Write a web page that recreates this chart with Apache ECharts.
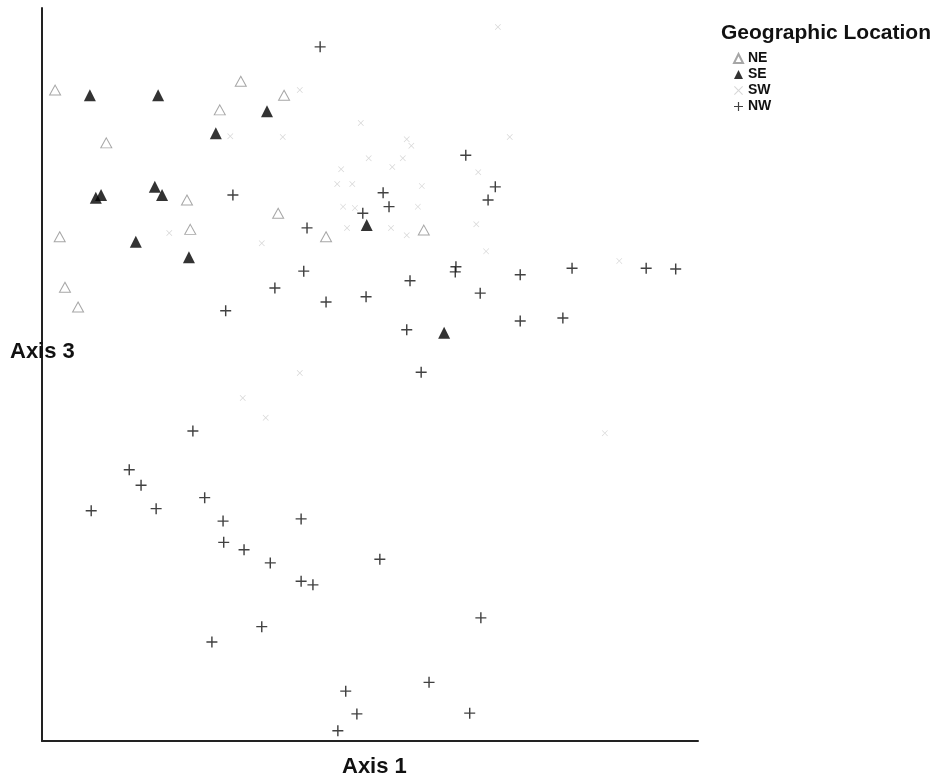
<!DOCTYPE html>
<html>
<head>
<meta charset="utf-8">
<title>Axis 1 vs Axis 3 by Geographic Location</title>
<script src="https://cdn.jsdelivr.net/npm/echarts@6/dist/echarts.min.js"></script>
<style>
  html, body { margin: 0; padding: 0; background: #fff; }
  #chart { width: 944px; height: 779px; }
</style>
</head>
<body>
<div id="chart"></div>
<script>
// Ordination scores [Axis 1, Axis 3] for each sample, grouped by region
const locations = ['NE', 'SE', 'SW', 'NW'];

const neScores = [
  [0.20, 8.88], [3.03, 9.00], [2.71, 8.61], [0.98, 8.16], [2.21, 7.38],
  [2.26, 6.98], [0.27, 6.88], [0.35, 6.19], [0.55, 5.92], [3.60, 7.20],
  [4.33, 6.88], [5.82, 6.97], [3.69, 8.81]
];

const seScores = [
  [0.73, 8.81], [1.77, 8.81], [3.43, 8.59], [2.65, 8.29], [0.82, 7.41],
  [0.90, 7.45], [1.72, 7.56], [1.83, 7.45], [1.43, 6.81], [2.24, 6.60],
  [4.95, 7.04], [6.13, 5.57]
];

const swScores = [
  [6.95, 9.74], [7.13, 8.24], [3.93, 8.88], [2.87, 8.25], [3.67, 8.24],
  [4.86, 8.43], [5.56, 8.21], [5.63, 8.12], [4.98, 7.95], [4.56, 7.80],
  [5.34, 7.83], [5.50, 7.95], [4.50, 7.60], [4.73, 7.60], [5.79, 7.57],
  [4.59, 7.29], [4.77, 7.27], [5.73, 7.29], [4.65, 7.00], [5.32, 7.00],
  [5.56, 6.90], [6.62, 7.05], [6.65, 7.76], [6.77, 6.68], [3.35, 6.79],
  [1.94, 6.93], [8.80, 6.55], [3.06, 4.68], [3.93, 5.02], [3.41, 4.41],
  [8.58, 4.20]
];

const nwScores = [
  [4.24, 9.47], [6.46, 7.99], [5.20, 7.48], [5.29, 7.29], [6.91, 7.56],
  [6.80, 7.38], [4.04, 7.00], [4.89, 7.20], [2.91, 7.45], [3.99, 6.41],
  [3.55, 6.18], [4.33, 5.99], [4.94, 6.06], [5.61, 6.28], [6.30, 6.40],
  [6.31, 6.47], [7.29, 6.36], [6.68, 6.11], [8.08, 6.45], [9.21, 6.45],
  [9.66, 6.44], [5.56, 5.61], [7.29, 5.73], [7.94, 5.77], [5.78, 5.03],
  [2.80, 5.87], [2.30, 4.23], [1.33, 3.70], [1.51, 3.49], [0.75, 3.14],
  [1.74, 3.17], [2.48, 3.32], [2.76, 3.00], [2.77, 2.71], [3.08, 2.61],
  [3.48, 2.43], [3.95, 3.03], [3.95, 2.18], [4.13, 2.13], [5.15, 2.48],
  [6.69, 1.68], [3.35, 1.56], [2.59, 1.35], [5.90, 0.80], [4.63, 0.68],
  [4.80, 0.37], [4.51, 0.14], [6.52, 0.38]
];

const axisXName = 'Axis 1';
const axisYName = 'Axis 3';
const legendTitle = 'Geographic Location';

// Marker shapes
const plusPath = 'path://M4.35,0h1.3v10h-1.3z M0,4.35h10v1.3h-10z';
const crossPath = 'path://M0,0.8L0.8,0L5,4.2L9.2,0L10,0.8L5.8,5L10,9.2L9.2,10L5,5.8L0.8,10L0,9.2L4.2,5z';

const FONT = '"Liberation Sans", Arial, sans-serif';

const chart = echarts.init(document.getElementById('chart'), null, { renderer: 'canvas' });

chart.setOption({
  backgroundColor: '#ffffff',
  animation: false,
  title: {
    text: legendTitle,
    left: 721,
    top: 23,
    padding: 0,
    textStyle: { fontFamily: FONT, fontSize: 21, fontWeight: 'bold', color: '#111' }
  },
  legend: {
    data: locations,
    orient: 'vertical',
    left: 733,
    top: 51,
    padding: 0,
    itemWidth: 9,
    itemHeight: 9,
    itemGap: 1,
    textStyle: { fontFamily: FONT, fontSize: 14, fontWeight: 'bold', color: '#111', lineHeight: 15, padding: [0, 0, 0, 0] }
  },
  grid: { left: 42, right: 246, top: 8, bottom: 38, containLabel: false, outerBoundsMode: 'none' },
  xAxis: {
    type: 'value',
    min: 0, max: 10,
    axisLine: { show: true, lineStyle: { color: '#222', width: 2 } },
    axisTick: { show: false },
    axisLabel: { show: false },
    splitLine: { show: false }
  },
  yAxis: {
    type: 'value',
    min: 0, max: 10,
    axisLine: { show: true, lineStyle: { color: '#222', width: 2 } },
    axisTick: { show: false },
    axisLabel: { show: false },
    splitLine: { show: false }
  },
  graphic: [
    {
      type: 'text',
      left: 10,
      top: 341,
      z: 10,
      style: { text: axisYName, font: 'bold 22px ' + FONT, fill: '#111' }
    },
    {
      type: 'text',
      left: 342,
      top: 756,
      z: 10,
      style: { text: axisXName, font: 'bold 22px ' + FONT, fill: '#111' }
    }
  ],
  series: [
    {
      name: 'NE', type: 'scatter', data: neScores,
      symbol: 'triangle', symbolSize: [11, 10],
      itemStyle: { color: 'rgba(255,255,255,0)', borderColor: '#909090', borderWidth: 1 }
    },
    {
      name: 'SE', type: 'scatter', data: seScores,
      symbol: 'triangle', symbolSize: [12, 12],
      itemStyle: { color: '#000', borderWidth: 0 }
    },
    {
      name: 'SW', type: 'scatter', data: swScores,
      symbol: crossPath, symbolSize: 6,
      itemStyle: { color: '#cccccc', borderWidth: 0 }
    },
    {
      name: 'NW', type: 'scatter', data: nwScores,
      symbol: plusPath, symbolSize: 11,
      itemStyle: { color: '#111', borderWidth: 0 }
    }
  ]
});
</script>
</body>
</html>
